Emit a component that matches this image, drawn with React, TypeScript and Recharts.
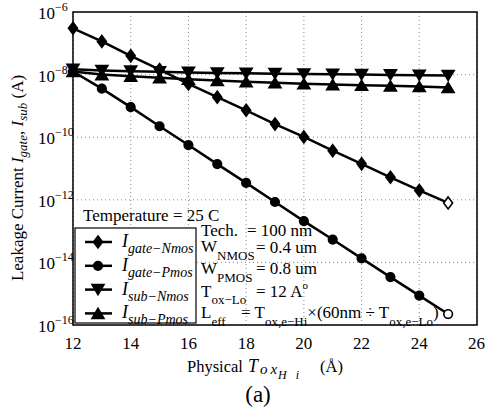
import { LineChart, Line, XAxis, YAxis, CartesianGrid, ReferenceArea } from "recharts";

// physical oxide thickness (Å)
const thickness = [12, 13, 14, 15, 16, 17, 18, 19, 20, 21, 22, 23, 24, 25];

// leakage currents, stored as log10(A)
const gateNmos = [-6.52, -6.94, -7.4, -7.84, -8.3, -8.72, -9.14, -9.58, -9.99, -10.43, -10.85, -11.28, -11.7, -12.1];
const gatePmos = [-7.9, -8.45, -9.04, -9.65, -10.25, -10.86, -11.46, -12.07, -12.68, -13.27, -13.87, -14.47, -15.06, -15.65];
const subNmos = [-7.83, -7.87, -7.89, -7.91, -7.93, -7.95, -7.96, -7.97, -7.98, -7.99, -8.0, -8.01, -8.02, -8.03];
const subPmos = [-7.9, -8.0, -8.05, -8.1, -8.15, -8.19, -8.23, -8.26, -8.29, -8.32, -8.34, -8.36, -8.38, -8.41];

const xTicks = [12, 14, 16, 18, 20, 22, 24, 26];
const yTicks = [-16, -14, -12, -10, -8, -6];

const FONT = "'Liberation Serif', 'DejaVu Serif', serif";

const data = thickness.map((t, i) => ({
  t,
  gateNmos: gateNmos[i],
  gatePmos: gatePmos[i],
  subNmos: subNmos[i],
  subPmos: subPmos[i],
}));

type Shape = "diamond" | "circle" | "down" | "up";

const series: { key: string; shape: Shape; hollowLast: boolean; label: string }[] = [
  { key: "gateNmos", shape: "diamond", hollowLast: true, label: "gate\u2212Nmos" },
  { key: "gatePmos", shape: "circle", hollowLast: true, label: "gate\u2212Pmos" },
  { key: "subNmos", shape: "down", hollowLast: false, label: "sub\u2212Nmos" },
  { key: "subPmos", shape: "up", hollowLast: false, label: "sub\u2212Pmos" },
];

function Marker({ shape, cx, cy, hollow }: { shape: Shape; cx: number; cy: number; hollow?: boolean }) {
  const fill = hollow ? "#fff" : "#000";
  const common = { fill, stroke: "#000", strokeWidth: 1.6 };
  if (shape === "circle") return <circle cx={cx} cy={cy} r={4.3} {...common} />;
  if (shape === "diamond")
    return <polygon points={`${cx},${cy - 6} ${cx + 4.5},${cy} ${cx},${cy + 6} ${cx - 4.5},${cy}`} {...common} />;
  if (shape === "down")
    return <polygon points={`${cx - 6},${cy - 5} ${cx + 6},${cy - 5} ${cx},${cy + 5}`} {...common} />;
  return <polygon points={`${cx - 6},${cy + 5} ${cx + 6},${cy + 5} ${cx},${cy - 5}`} {...common} />;
}

function YTick(props: any) {
  const { y, payload } = props;
  return (
    <text x={38} y={y + 7} fontFamily={FONT} fontSize={17} fill="#000">
      10
      <tspan dy={-8} fontSize={12}>
        {"\u2212" + Math.abs(payload.value)}
      </tspan>
    </text>
  );
}

function Annotations() {
  const sub = { fontSize: 13 };
  return (
    <svg
      width={485}
      height={417}
      style={{ position: "absolute", left: 0, top: 0, pointerEvents: "none" }}
      fontFamily={FONT}
      fill="#000"
    >
      {/* y label */}
      <text transform="translate(23,178) rotate(-90)" textAnchor="middle" fontSize={17}>
        Leakage Current <tspan fontStyle="italic">I</tspan>
        <tspan dy={4} fontSize={13} fontStyle="italic">gate</tspan>
        <tspan dy={-4}>, </tspan>
        <tspan fontStyle="italic">I</tspan>
        <tspan dy={4} fontSize={13} fontStyle="italic">sub</tspan>
        <tspan dy={-4}> (A)</tspan>
      </text>
      {/* x label */}
      <text y={372} fontSize={16.5}>
        <tspan x={187}>Physical</tspan>
        <tspan x={248} fontSize={18} fontStyle="italic">T</tspan>
        <tspan x={260} dy={2} fontSize={15} fontStyle="italic" letterSpacing={3}>ox</tspan>
        <tspan x={278} dy={5} fontSize={12} fontStyle="italic" letterSpacing={3}>H i</tspan>
        <tspan x={320} dy={-7}>({"\u00C5"})</tspan>
      </text>
      <text x={258} y={402} textAnchor="middle" fontSize={23}>
        (a)
      </text>

      <text x={83} y={221} fontSize={17}>
        Temperature = 25 C
      </text>

      {/* legend */}
      <rect x={75} y={228} width={121} height={95} fill="#fff" stroke="#000" strokeWidth={1.2} />
      {series.map((s, i) => {
        const cy = 242 + i * 23.8;
        return (
          <g key={s.key}>
            <line x1={85} x2={112} y1={cy} y2={cy} stroke="#000" strokeWidth={2.5} />
            <Marker shape={s.shape} cx={98} cy={cy} />
            <text x={122} y={cy + 5} fontSize={18} fontStyle="italic">
              I
              <tspan dy={6} fontSize={14}>
                {s.label}
              </tspan>
            </text>
          </g>
        );
      })}

      {/* process parameters */}
      <text x={201} y={236} fontSize={17}>Tech.</text>
      <text x={247} y={236} fontSize={17}>= 100 nm</text>

      <text x={201} y={252} fontSize={17}>
        W<tspan dy={8} {...sub}>NMOS</tspan>
      </text>
      <text x={256} y={253} fontSize={17}>= 0.4 um</text>

      <text x={201} y={274} fontSize={17}>
        W<tspan dy={8} {...sub}>PMOS</tspan>
      </text>
      <text x={256} y={274} fontSize={17}>= 0.8 um</text>

      <text x={201} y={297} fontSize={17}>
        T<tspan dy={7} {...sub}>ox{"\u2212"}Lo</tspan>
      </text>
      <text x={256} y={297} fontSize={17}>
        = 12 A<tspan dy={-8} fontSize={11}>o</tspan>
      </text>

      <text x={201} y={318} fontSize={17}>
        L<tspan dy={8} {...sub}>eff</tspan>
      </text>
      <text x={241} y={318} fontSize={17}>
        = T<tspan dy={8} {...sub}>ox,e{"\u2212"}Hi</tspan>
        <tspan dy={-8}>{"\u00D7(60nm \u00F7 T"}</tspan>
        <tspan dy={8} {...sub}>ox,e{"\u2212"}Lo</tspan>
        <tspan dy={-8}>)</tspan>
      </text>
    </svg>
  );
}

export default function App() {
  return (
    <div style={{ position: "absolute", left: 0, top: 0, width: 485, height: 417, background: "#fff" }}>
      <LineChart width={485} height={417} data={data} margin={{ top: 12, right: 8, left: 0, bottom: 62 }}>
        <CartesianGrid stroke="#888" strokeDasharray="1 3" strokeWidth={1} />
        <XAxis
          dataKey="t"
          type="number"
          domain={[12, 26]}
          ticks={xTicks}
          height={30}
          axisLine={false}
          tickLine={false}
          tick={{ fill: "#000", fontSize: 17, fontFamily: FONT }}
          dy={4}
        />
        <YAxis
          type="number"
          domain={[-16, -6]}
          ticks={yTicks}
          width={73}
          axisLine={false}
          tickLine={false}
          tick={<YTick />}
          allowDataOverflow
        />
        <ReferenceArea x1={12} x2={26} y1={-16} y2={-6} fill="none" stroke="#000" strokeWidth={1.5} ifOverflow="visible" />
        {series.map((s) => (
          <Line
            key={s.key}
            dataKey={s.key}
            type="linear"
            stroke="#000"
            strokeWidth={2.5}
            isAnimationActive={false}
            dot={(p: any) => (
              <Marker
                key={`${s.key}-${p.index}`}
                shape={s.shape}
                cx={p.cx}
                cy={p.cy}
                hollow={s.hollowLast && p.index === thickness.length - 1}
              />
            )}
          />
        ))}
      </LineChart>
      <Annotations />
    </div>
  );
}
